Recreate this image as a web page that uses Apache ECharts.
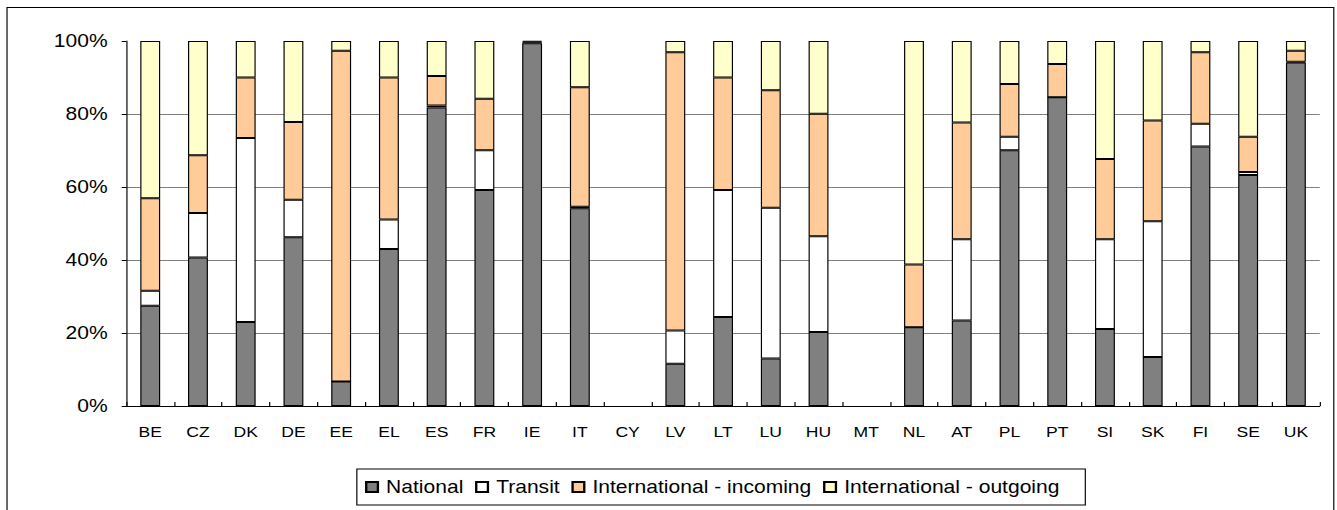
<!DOCTYPE html>
<html>
<head>
<meta charset="utf-8">
<script src="https://cdn.jsdelivr.net/npm/echarts@6/dist/echarts.min.js"></script>
<style>
  html, body { margin: 0; padding: 0; background: #fff; overflow: hidden; }
  /* the original picture is a horizontally stretched spreadsheet chart,
     so draw it narrower and stretch the whole thing */
  #chart { width: 1143px; height: 510px; transform: scaleX(1.17); transform-origin: 0 0; }
</style>
</head>
<body>
<div id="chart"></div>
<script>
const countries = ['BE', 'CZ', 'DK', 'DE', 'EE', 'EL', 'ES', 'FR', 'IE', 'IT', 'CY', 'LV', 'LT', 'LU', 'HU', 'MT', 'NL', 'AT', 'PL', 'PT', 'SI', 'SK', 'FI', 'SE', 'UK'];

const national = [27.5, 40.7, 23.0, 46.2, 6.7, 43.0, 81.8, 59.2, 99.4, 54.2, null, 11.6, 24.4, 13.0, 20.3, null, 21.6, 23.4, 70.1, 84.6, 21.1, 13.4, 71.1, 63.3, 94.1];
const transit = [4.1, 12.2, 50.4, 10.3, 0, 8.1, 0.5, 10.9, 0.2, 0.4, null, 9.1, 34.8, 41.3, 26.2, null, 0, 22.3, 3.7, 0, 24.6, 37.2, 6.2, 0.8, 0.2];
const incoming = [25.3, 15.8, 16.6, 21.3, 90.6, 38.9, 8.1, 14.1, 0.2, 32.7, null, 76.2, 30.8, 32.2, 33.6, null, 17.2, 32.0, 14.4, 9.1, 22.0, 27.6, 19.6, 9.7, 3.0];
const outgoing = [43.1, 31.3, 10.0, 22.2, 2.7, 10.0, 9.6, 15.8, 0.2, 12.7, null, 3.1, 10.0, 13.5, 19.9, null, 61.2, 22.3, 11.8, 6.3, 32.3, 21.8, 3.1, 26.2, 2.7];

const yTicks = [0, 20, 40, 60, 80, 100];

const font = '"Liberation Sans", Arial, sans-serif';

const chart = echarts.init(document.getElementById('chart'), null, { renderer: 'svg' });

function barSeries(name, data, color) {
  return {
    name: name,
    type: 'bar',
    stack: 'total',
    data: data,
    barWidth: 17,
    itemStyle: {
      color: color,
      borderColor: '#000',
      borderWidth: 1
    }
  };
}

const option = {
  animation: false,
  backgroundColor: '#fff',
  textStyle: { fontFamily: font },
  graphic: [
    {
      type: 'rect',
      shape: { x: 6, y: 7.5, width: 1134, height: 600 },
      style: { fill: 'none', stroke: '#000', lineWidth: 1 },
      silent: true
    }
  ],
  legend: {
    left: 305,
    top: 469,
    padding: [9, 22, 9, 7],
    borderColor: '#000',
    borderWidth: 1,
    itemGap: 10,
    itemWidth: 10,
    itemHeight: 10,
    icon: 'rect',
    textStyle: { fontFamily: font, fontSize: 18, color: '#000', padding: [0, 0, 0, 2] },
    data: ['National', 'Transit', 'International - incoming', 'International - outgoing']
  },
  grid: {
    left: 108,
    right: 15,
    top: 41,
    bottom: 104,
    containLabel: false
  },
  xAxis: {
    type: 'category',
    data: countries,
    axisLine: { lineStyle: { color: '#000', width: 1 } },
    axisTick: { show: true, inside: true, length: 4, lineStyle: { color: '#000' } },
    axisLabel: { color: '#000', fontFamily: font, fontSize: 15, margin: 18 },
    splitLine: { show: false }
  },
  yAxis: {
    type: 'value',
    min: yTicks[0],
    max: yTicks[yTicks.length - 1],
    interval: 20,
    axisLine: { show: true, lineStyle: { color: '#000', width: 1 } },
    axisTick: { show: true, length: 4, lineStyle: { color: '#000' } },
    axisLabel: { color: '#000', fontFamily: font, fontSize: 18, margin: 16, formatter: '{value}%' },
    splitLine: { show: true, showMaxLine: false, lineStyle: { color: '#808080', width: 1 } }
  },
  series: [
    barSeries('National', national, '#808080'),
    barSeries('Transit', transit, '#ffffff'),
    barSeries('International - incoming', incoming, '#ffcc99'),
    barSeries('International - outgoing', outgoing, '#ffffcc')
  ]
};

chart.setOption(option);
</script>
</body>
</html>
